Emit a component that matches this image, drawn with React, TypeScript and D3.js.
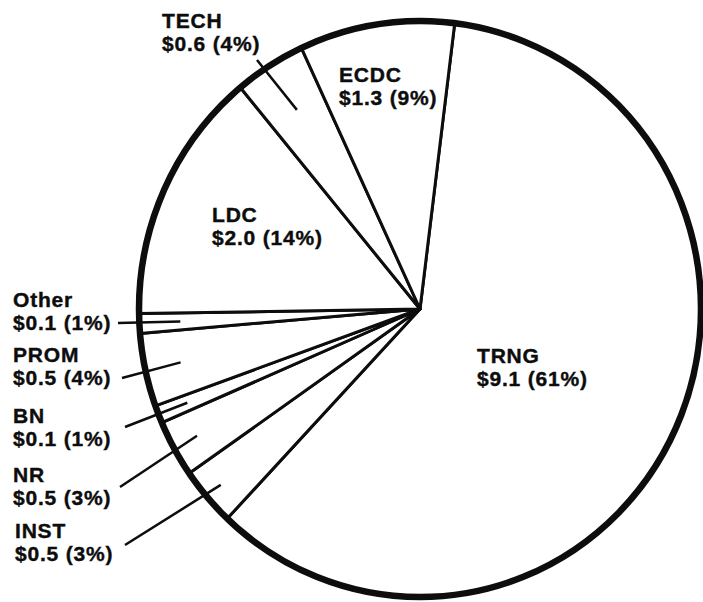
import * as d3 from "d3";

// budget by category, $ millions
const categories = ["TRNG", "INST", "NR", "BN", "PROM", "Other", "LDC", "TECH", "ECDC"];
const dollars = [9.1, 0.5, 0.5, 0.1, 0.5, 0.1, 2.0, 0.6, 1.3];
const percents = [61, 3, 3, 1, 4, 1, 14, 4, 9];
// slice sizes as drawn in the original figure (% of the circle)
const sliceShares = [60.0, 3.3, 3.2, 1.0, 4.1, 1.1, 14.2, 4.1, 8.9];

const W = 703;
const H = 602;
const cx = 420;
const cy = 309;
const radius = 281;
const yStretch = 1.025; // the scanned circle is a little taller than wide
const startDeg = 7.1;

// where each label sits; leader = inner radius of the pointer line + its end by the text
const labelLayout: Record<string, { x: number; y: number; leader?: { r: number; x: number; y: number } }> = {
  TRNG: { x: 477, y: 363 },
  ECDC: { x: 339, y: 82 },
  LDC: { x: 212, y: 222 },
  TECH: { x: 162, y: 28, leader: { r: 230, x: 257, y: 60 } },
  Other: { x: 13, y: 307, leader: { r: 240, x: 118, y: 323 } },
  PROM: { x: 13, y: 362, leader: { r: 245, x: 122, y: 378 } },
  BN: { x: 13, y: 423, leader: { r: 250, x: 125, y: 427 } },
  NR: { x: 13, y: 482, leader: { r: 255, x: 120, y: 487 } },
  INST: { x: 15, y: 538, leader: { r: 263, x: 125, y: 545 } },
};

export default function App() {
  const slices = categories.map((c, i) => ({
    name: c,
    dollars: dollars[i],
    pct: percents[i],
    share: sliceShares[i],
  }));

  const start = (startDeg * Math.PI) / 180;
  const pie = d3
    .pie<(typeof slices)[number]>()
    .sort(null)
    .value((d) => d.share)
    .startAngle(start)
    .endAngle(start + 2 * Math.PI);
  const arcs = pie(slices);

  const arc = d3.arc<d3.PieArcDatum<(typeof slices)[number]>>().innerRadius(0).outerRadius(radius);

  const font = {
    fontFamily: "'Liberation Sans', Arial, Helvetica, sans-serif",
    fontWeight: 700,
    fontSize: 21,
    letterSpacing: 0.8,
    fill: "#0d0d0d",
    stroke: "#0d0d0d",
    strokeWidth: 0.4,
  };

  return (
    <svg width={W} height={H} style={{ position: "absolute", left: 0, top: 0, background: "#fff" }}>
      <g transform={`translate(${cx},${cy}) scale(1,${yStretch})`}>
        {arcs.map((a) => (
          <path
            key={a.data.name}
            d={arc(a) || ""}
            fill="#fff"
            stroke="#0d0d0d"
            strokeWidth={3}
            strokeLinejoin="round"
            vectorEffect="non-scaling-stroke"
          />
        ))}
      </g>

      {arcs.map((a) => {
        const lay = labelLayout[a.data.name];
        if (!lay.leader) return null;
        const mid = (a.startAngle + a.endAngle) / 2;
        const x1 = cx + lay.leader.r * Math.sin(mid);
        const y1 = cy - lay.leader.r * Math.cos(mid) * yStretch;
        return (
          <line
            key={"leader-" + a.data.name}
            x1={x1}
            y1={y1}
            x2={lay.leader.x}
            y2={lay.leader.y}
            stroke="#0d0d0d"
            strokeWidth={2.5}
          />
        );
      })}

      <ellipse cx={cx} cy={cy} rx={radius} ry={radius * yStretch} fill="none" stroke="#0d0d0d" strokeWidth={6.5} />

      {arcs.map((a) => {
        const lay = labelLayout[a.data.name];
        return (
          <text key={"label-" + a.data.name} x={lay.x} y={lay.y} {...font}>
            <tspan x={lay.x}>{a.data.name}</tspan>
            <tspan x={lay.x} dy={23}>
              {`$${a.data.dollars.toFixed(1)} (${a.data.pct}%)`}
            </tspan>
          </text>
        );
      })}
    </svg>
  );
}
